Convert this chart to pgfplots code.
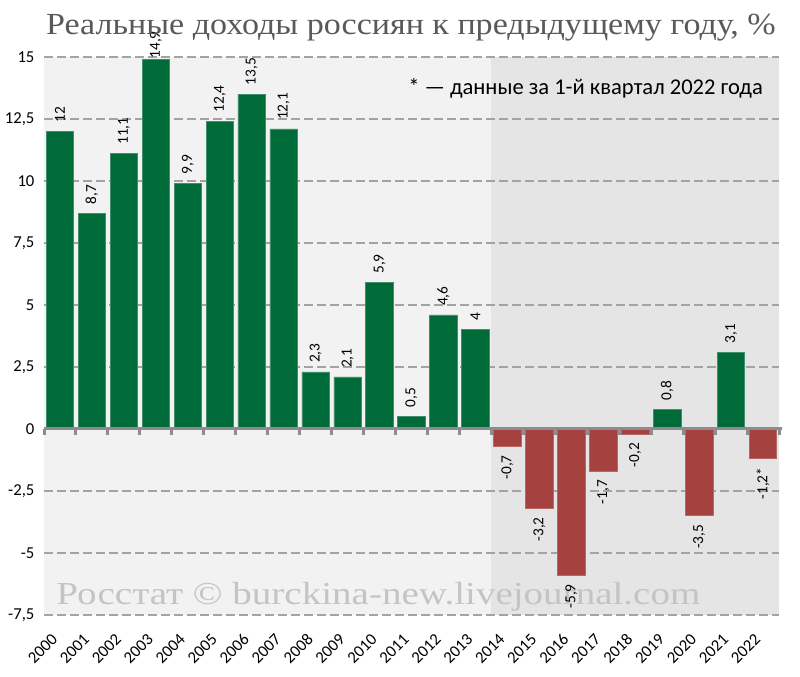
\documentclass[border=0pt]{standalone}
\usepackage{fontspec}
\setmainfont{Carlito}
\newfontfamily\serifttl[FakeStretch=1.11]{Liberation Serif}
\newfontfamily\serifwm[FakeStretch=1.22]{Liberation Serif}
\usepackage{pgfplots}
\usepackage{pgfplotstable}
\pgfplotsset{compat=1.18}

\definecolor{barg}{HTML}{006A38}
\definecolor{barr}{HTML}{A5413E}
\definecolor{bglight}{HTML}{F2F2F2}
\definecolor{bgdark}{HTML}{E5E5E5}
\definecolor{gridc}{HTML}{A3A3A3}
\definecolor{zeroc}{HTML}{8C8C8C}
\definecolor{titlec}{HTML}{595959}
\definecolor{wmc}{HTML}{C4C4C4}

% positive years (2003 is drawn on its own: its label sits lower)
\pgfplotstableread{
x  y    lab
0  12   12
1  8.7  8,7
2  11.1 11,1
4  9.9  9,9
5  12.4 12,4
6  13.5 13,5
7  12.1 12,1
8  2.3  2,3
9  2.1  2,1
10 5.9  5,9
11 0.5  0,5
12 4.6  4,6
13 4    4
19 0.8  0,8
21 3.1  3,1
}\datapos

\pgfplotstableread{
x  y    lab
3  14.9 14,9
}\datatop

% negative years
\pgfplotstableread{
x  y    lab
14 -0.7 -0,7
15 -3.2 -3,2
16 -5.9 -5,9
17 -1.7 -1,7
18 -0.2 -0,2
20 -3.5 -3,5
22 -1.2 -1,2*
}\dataneg

\begin{document}
\begin{tikzpicture}[x=0.75pt,y=0.75pt]
\path (0,0) rectangle (800,677);

\begin{axis}[
  at={(33pt,46.5pt)}, anchor=south west,
  scale only axis, width=551.25pt, height=418.5pt,
  clip=false,
  xmin=-0.5, xmax=22.5, ymin=-7.5, ymax=15,
  axis line style={draw=none},
  major tick length=0pt,
  xtick={0,...,22},
  xticklabels={2000,2001,2002,2003,2004,2005,2006,2007,2008,2009,2010,2011,
    2012,2013,2014,2015,2016,2017,2018,2019,2020,2021,2022},
  xticklabel style={font=\fontsize{12.5}{12.5}\selectfont, xshift=-4pt, yshift=-16pt,
    rotate=45, anchor=east, inner sep=0pt},
  ytick={-7.5,-5,-2.5,0,2.5,5,7.5,10,12.5,15},
  yticklabel style={font=\fontsize{12.5}{12.5}\selectfont, inner sep=0pt, xshift=-7pt},
  /pgf/number format/assume math mode=true,
  /pgf/number format/use comma,
  ybar, bar width=0.86, bar shift=0pt,
  nodes near coords,
  point meta=explicit symbolic,
  every node near coord/.append style={font=\fontsize{11.5}{11.5}\selectfont,
    rotate=90, inner sep=6.5pt, text=black},
]

% background bands, grid and watermark first
\fill[bglight] (axis cs:-0.5,-7.5) rectangle (axis cs:13.5,15);
\fill[bgdark] (axis cs:13.5,-7.5) rectangle (axis cs:22.5,15);
\pgfplotsinvokeforeach{-7.5,-5,-2.5,2.5,5,7.5,10,12.5,15}{
  \draw[gridc, line width=0.8pt, dash pattern=on 6.5pt off 3.25pt]
    (axis cs:-0.5,#1) -- (axis cs:22.5,#1);
}
\node[anchor=base west, text=wmc, inner sep=0pt,
  font=\serifwm\fontsize{24}{24}\selectfont]
  at (axis cs:-0.12,-7.06) {Росстат © burckina-new.livejournal.com};

\addplot[fill=barg, draw=barg!75!white, line width=0.5pt,
  every node near coord/.append style={anchor=west}]
  table[x=x, y=y, meta=lab] {\datapos};
\addplot[fill=barg, draw=barg!75!white, line width=0.5pt,
  every node near coord/.append style={anchor=west, inner sep=0.5pt}]
  table[x=x, y=y, meta=lab] {\datatop};
\addplot[fill=barr, draw=barr!80!white, line width=0.5pt,
  every node near coord/.append style={anchor=east}]
  table[x=x, y=y, meta=lab] {\dataneg};

\draw[zeroc, line width=2.25pt] (axis cs:-0.5,0) -- (axis cs:22.6,0);
\pgfplotsinvokeforeach{0,...,23}{
  \draw[zeroc, line width=2.25pt] (axis cs:#1-0.5,0) -- ++(0pt,-4.5pt);
}
\end{axis}

\node[anchor=base, text=titlec, inner sep=0pt,
  font=\serifttl\fontsize{23}{23}\selectfont]
  at (411,642) {Реальные доходы россиян к предыдущему году, \%};
\node[anchor=west, inner sep=0pt, font=\fontsize{16.9}{16.9}\selectfont]
  at (408,589) {* — данные за 1-й квартал 2022 года};
\end{tikzpicture}
\end{document}
